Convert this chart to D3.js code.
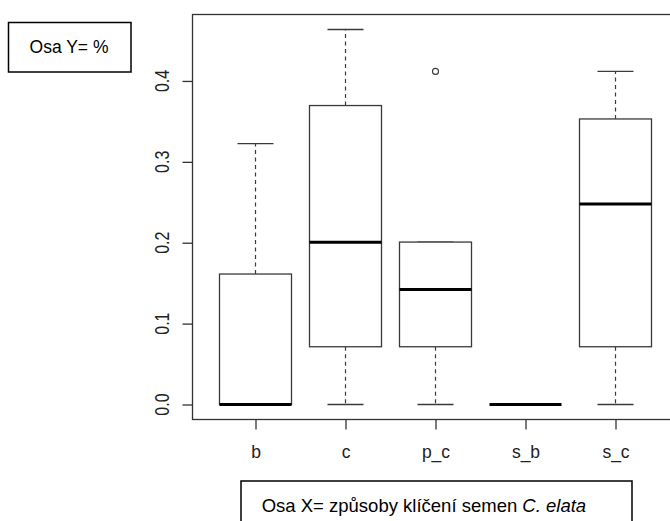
<!DOCTYPE html>
<html><head><meta charset="utf-8">
<script src="https://cdn.jsdelivr.net/npm/d3@7"></script>
<style>body{margin:0;background:#fff}svg{display:block}</style>
</head><body>
<svg id="c" width="670" height="521"></svg>
<script>
// ---- data ----
const categories = ["b", "c", "p_c", "s_b", "s_c"];
const whiskerLow  = [0, 0, 0, 0, 0];
const quart1      = [0, 0.0714, 0.0714, 0, 0.0714];
const medians     = [0, 0.2005, 0.1423, 0, 0.2479];
const quart3      = [0.1613, 0.3696, 0.2008, 0, 0.3530];
const whiskerHigh = [0.3226, 0.4636, 0.2008, 0, 0.4118];
const outliers    = [{cat: "p_c", value: 0.4118}];
const yTicks      = [0, 0.1, 0.2, 0.3, 0.4];
const yTitle = "Osa Y= %";
const xTitlePlain = "Osa X= způsoby klíčení semen ";
const xTitleItalic = "C. elata";

const svg = d3.select("#c");
const L = 192.5, R = 678.5, T = 14.5, B = 419.5;

const x = d3.scalePoint().domain(categories).range([L, R]).padding(0.7);
const step = x.step();
const dataMax = d3.max(whiskerHigh.concat(outliers.map(o => o.value)));
const dataMin = d3.min(whiskerLow);
const ext = (dataMax - dataMin) * 0.04;
const y = d3.scaleLinear().domain([dataMin - ext, dataMax + ext]).range([B, T]);

const stroke = "#3a3a3a";

// boxes
const g = svg.append("g");
categories.forEach((c, i) => {
  const cx = x(c);
  const bw = step * 0.8, sw = step * 0.4;
  [[quart3[i], whiskerHigh[i]], [quart1[i], whiskerLow[i]]].forEach(([a, b]) => {
    if (a !== b) {
      g.append("line").attr("x1", cx).attr("x2", cx).attr("y1", y(a)).attr("y2", y(b))
        .attr("stroke", stroke).attr("stroke-width", 1.2).attr("stroke-dasharray", "4,3.5");
    }
    g.append("line").attr("x1", cx - sw/2).attr("x2", cx + sw/2).attr("y1", y(b)).attr("y2", y(b))
      .attr("stroke", stroke).attr("stroke-width", 1.3);
  });
  g.append("rect").attr("x", cx - bw/2).attr("y", y(quart3[i]))
    .attr("width", bw).attr("height", Math.max(0, y(quart1[i]) - y(quart3[i])))
    .attr("fill", "#fff").attr("stroke", stroke).attr("stroke-width", 1.3);
  g.append("line").attr("x1", cx - bw/2).attr("x2", cx + bw/2)
    .attr("y1", y(medians[i])).attr("y2", y(medians[i]))
    .attr("stroke", "#000").attr("stroke-width", 3);
});
outliers.forEach(o => {
  g.append("circle").attr("cx", x(o.cat)).attr("cy", y(o.value)).attr("r", 3)
    .attr("fill", "none").attr("stroke", stroke).attr("stroke-width", 1.1);
});

// frame
svg.append("rect").attr("x", L).attr("y", T).attr("width", R - L).attr("height", B - T)
  .attr("fill", "none").attr("stroke", "#333").attr("stroke-width", 1.3);

// y axis
const ya = svg.append("g").attr("transform", `translate(${L},0)`)
  .call(d3.axisLeft(y).tickValues(yTicks).tickSize(10).tickFormat(d3.format(".1f")));
ya.select(".domain").remove();
ya.selectAll(".tick line").attr("stroke", "#333").attr("stroke-width", 1.3);
ya.selectAll(".tick text").remove();
yTicks.forEach(v => {
  svg.append("text").attr("transform", `translate(168.5,${y(v)}) scale(1.25,1) rotate(-90)`)
    .attr("text-anchor", "middle").attr("font-family", "Liberation Sans, Arial, sans-serif")
    .attr("font-size", 16).attr("fill", "#222").text(d3.format(".1f")(v));
});

// x axis
const xa = svg.append("g").attr("transform", `translate(0,${B})`)
  .call(d3.axisBottom(x).tickSize(10));
xa.select(".domain").remove();
xa.selectAll(".tick line").attr("stroke", "#333").attr("stroke-width", 1.3);
xa.selectAll(".tick text").attr("y", 0).attr("dy", 0)
  .attr("transform", "translate(0,38)")
  .attr("font-family", "Liberation Sans, Arial, sans-serif").attr("font-size", 17.5).attr("fill", "#222");

// annotation boxes
svg.append("rect").attr("x", 8.5).attr("y", 22.5).attr("width", 122.5).attr("height", 49.5)
  .attr("fill", "#fff").attr("stroke", "#000").attr("stroke-width", 1.5);
svg.append("text").attr("x", 69).attr("y", 53.3).attr("text-anchor", "middle")
  .attr("font-family", "Liberation Sans, Arial, sans-serif").attr("font-size", 17.5).attr("fill", "#000")
  .text(yTitle);

svg.append("rect").attr("x", 241).attr("y", 481).attr("width", 391).attr("height", 60)
  .attr("fill", "#fff").attr("stroke", "#000").attr("stroke-width", 1.5);
const xt = svg.append("text").attr("x", 261.7).attr("y", 511.5)
  .attr("font-family", "Liberation Sans, Arial, sans-serif").attr("font-size", 18.5).attr("fill", "#000");
xt.append("tspan").text(xTitlePlain);
xt.append("tspan").attr("font-style", "italic").text(xTitleItalic);
</script>
</body></html>
